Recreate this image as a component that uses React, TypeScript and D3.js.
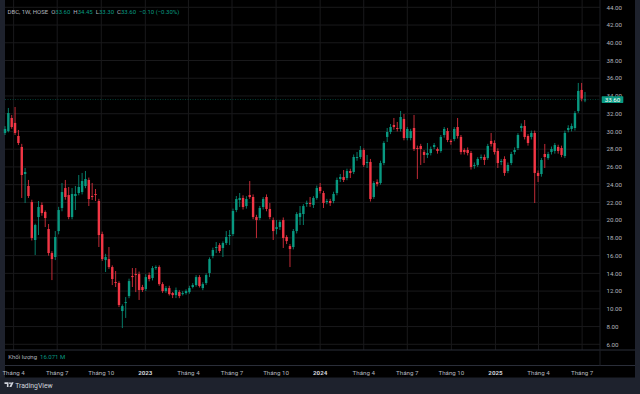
import React from "react";
import * as d3 from "d3";

const symbol = "DBC, 1W, HOSE";
const quote = [
  { k: "O", v: "33.60" },
  { k: "H", v: "34.45" },
  { k: "L", v: "33.30" },
  { k: "C", v: "33.60" },
];
const change = "−0.10 (−0.30%)";
const volumeLabel = "Khối lượng";
const volumeValue = "16.071 M";
const lastPrice = 33.6;

const opens = [
  29.83, 30.05, 31.52, 30.96, 29.49, 28.25, 25.2, 23.85, 22.04, 17.76,
  20.35, 21.71, 20.92, 19.0, 16.29, 15.84, 18.77, 21.37, 23.62, 22.83,
  20.35, 22.72, 23.06, 23.17, 23.85, 24.53, 22.72, 22.95, 22.16, 18.43,
  15.5, 15.61, 14.71, 13.02, 12.91, 9.75, 10.65, 11.44, 13.7, 13.92,
  13.92, 12.46, 12.23, 13.81, 13.47, 14.6, 14.71, 12.79, 12.0, 12.34,
  11.78, 11.55, 11.89, 11.66, 11.78, 11.89, 12.46, 12.68, 13.58, 12.34,
  12.91, 14.04, 15.95, 16.86, 17.19, 16.86, 17.42, 18.21, 18.43, 21.14,
  22.27, 22.5, 21.59, 22.83, 22.61, 20.35, 20.24, 21.48, 22.61, 21.26,
  20.01, 19.0, 19.22, 20.01, 18.1, 17.08, 16.97, 18.77, 20.35, 20.69,
  21.82, 21.93, 21.71, 22.5, 23.74, 23.06, 22.04, 22.16, 22.16, 23.06,
  24.64, 24.86, 24.75, 25.54, 25.43, 27.0, 27.12, 27.91, 26.44, 26.56,
  22.61, 24.3, 24.19, 26.44, 29.38, 29.94, 30.73, 30.39, 30.28, 31.41,
  29.26, 29.26, 30.39, 28.13, 28.36, 27.68, 27.35, 27.57, 28.25, 28.02,
  27.8, 29.6, 30.05, 28.93, 29.15, 30.5, 29.38, 27.91, 27.91, 27.57,
  26.1, 26.22, 27.0, 27.12, 27.0, 28.93, 28.7, 27.8, 26.56, 26.9,
  25.54, 26.44, 27.68, 28.13, 30.39, 30.62, 29.49, 29.38, 29.83, 25.32,
  25.2, 27.46, 27.0, 27.68, 27.8, 28.25, 28.13, 27.23, 30.17, 30.28,
  30.39, 32.31, 34.68, 33.6,
];
const highs = [
  30.6, 32.65, 31.86, 32.76, 30.17, 28.6, 25.88, 24.53, 22.3, 19.6,
  22.16, 22.0, 21.1, 19.56, 16.5, 18.77, 21.5, 24.19, 24.53, 23.74,
  23.62, 23.85, 25.09, 25.32, 25.54, 24.8, 24.19, 23.51, 22.4, 18.7,
  16.2, 16.97, 14.9, 14.26, 13.1, 10.5, 11.33, 13.4, 14.6, 14.6,
  14.2, 12.7, 13.9, 14.1, 14.82, 14.9, 14.9, 13.0, 12.57, 12.6,
  11.9, 12.4, 12.1, 12.0, 12.2, 12.6, 12.9, 13.8, 13.8, 13.0,
  14.0, 15.8, 16.9, 17.53, 17.4, 17.6, 18.77, 18.89, 21.3, 22.72,
  23.06, 22.8, 22.7, 24.41, 22.9, 20.6, 21.6, 22.6, 22.9, 21.93,
  20.3, 20.01, 20.0, 20.3, 18.3, 17.3, 19.0, 20.9, 21.59, 21.8,
  22.2, 22.61, 22.7, 23.9, 24.19, 23.3, 22.4, 22.4, 23.2, 24.8,
  25.2, 25.65, 25.8, 25.8, 27.4, 27.68, 28.36, 28.1, 27.35, 26.9,
  24.4, 24.6, 26.7, 28.9, 30.39, 30.84, 31.52, 31.07, 32.31, 31.97,
  30.5, 30.3, 31.86, 28.4, 28.6, 27.9, 28.7, 28.3, 28.7, 28.2,
  29.6, 30.5, 30.4, 29.1, 30.5, 31.52, 29.6, 28.1, 28.2, 27.8,
  26.5, 27.1, 27.4, 27.4, 28.6, 29.83, 29.0, 28.1, 26.9, 27.2,
  26.5, 27.7, 28.2, 29.8, 30.9, 31.29, 29.7, 30.1, 30.1, 25.6,
  27.0, 28.59, 27.7, 28.3, 28.7, 28.5, 28.4, 30.1, 30.7, 30.9,
  32.3, 35.47, 35.47, 34.45,
];
const lows = [
  29.6, 29.9, 30.3, 29.6, 28.47, 22.5, 21.93, 22.5, 17.7, 16.07,
  18.32, 20.5, 19.22, 16.0, 13.24, 15.5, 18.4, 21.0, 22.3, 20.1,
  20.1, 21.14, 22.8, 22.9, 23.6, 21.59, 22.27, 22.16, 16.97, 15.4,
  14.15, 14.5, 12.68, 12.46, 10.2, 7.83, 8.97, 11.2, 12.46, 11.89,
  11.0, 11.9, 12.0, 13.1, 13.2, 14.4, 12.6, 11.8, 11.8, 11.5,
  11.21, 11.21, 11.2, 11.5, 11.6, 11.7, 12.3, 12.5, 12.4, 12.1,
  12.7, 13.58, 15.7, 16.29, 16.3, 15.84, 17.2, 17.19, 18.2, 20.9,
  21.48, 21.2, 21.3, 22.4, 20.1, 17.98, 20.0, 21.2, 21.0, 20.1,
  17.76, 18.4, 18.9, 16.86, 17.3, 14.71, 16.7, 18.5, 19.45, 19.45,
  21.5, 21.5, 21.37, 22.3, 23.0, 21.37, 21.8, 21.6, 21.9, 22.8,
  24.3, 24.3, 24.5, 24.75, 25.2, 26.7, 26.9, 26.0, 25.88, 22.1,
  22.4, 23.8, 24.0, 26.2, 28.81, 29.7, 30.2, 30.0, 30.0, 29.0,
  29.0, 29.0, 27.8, 24.64, 26.22, 26.44, 27.0, 27.3, 28.0, 27.5,
  27.6, 29.3, 28.8, 28.5, 28.9, 29.2, 27.4, 27.4, 27.3, 25.7,
  25.8, 26.0, 26.8, 26.22, 26.8, 28.3, 27.4, 25.88, 26.2, 25.0,
  25.3, 26.2, 27.4, 27.9, 30.0, 29.1, 28.4, 29.1, 21.93, 24.3,
  24.9, 25.88, 26.8, 27.4, 27.5, 27.5, 27.1, 27.0, 29.9, 30.0,
  30.1, 32.1, 33.4, 33.3,
];
const closes = [
  30.28, 32.08, 30.5, 29.83, 28.7, 25.09, 25.43, 22.72, 17.98, 19.45,
  21.48, 20.8, 20.24, 16.29, 15.61, 18.1, 21.14, 23.17, 22.61, 20.35,
  22.95, 22.95, 23.74, 24.41, 24.64, 22.38, 22.61, 22.83, 18.32, 15.61,
  15.84, 14.71, 13.36, 12.91, 10.43, 10.31, 10.76, 13.13, 13.58, 13.81,
  12.12, 12.12, 13.58, 13.36, 14.6, 14.71, 12.79, 12.0, 12.34, 11.66,
  11.55, 12.12, 11.44, 11.78, 12.0, 12.34, 12.68, 13.58, 12.57, 12.79,
  13.81, 15.61, 16.63, 16.97, 16.52, 17.42, 18.1, 18.32, 21.03, 22.38,
  22.5, 21.48, 22.38, 22.61, 20.35, 20.01, 21.37, 22.38, 21.26, 20.35,
  18.77, 19.22, 19.79, 17.98, 17.64, 16.74, 18.77, 20.69, 20.8, 21.59,
  21.93, 21.82, 22.5, 23.62, 23.28, 21.93, 22.16, 21.93, 22.95, 24.53,
  24.86, 24.53, 25.54, 25.32, 27.12, 27.12, 27.91, 26.22, 26.56, 22.38,
  24.19, 24.08, 26.44, 28.7, 29.94, 30.5, 30.5, 30.28, 31.63, 29.26,
  30.28, 30.05, 28.02, 28.02, 28.02, 27.35, 27.57, 28.02, 28.47, 27.8,
  29.38, 30.28, 29.04, 28.81, 30.28, 29.49, 27.68, 27.68, 27.57, 25.99,
  26.22, 26.9, 27.12, 26.78, 28.36, 28.59, 27.68, 26.44, 26.67, 25.32,
  26.22, 27.46, 27.91, 29.6, 30.62, 29.38, 28.7, 29.83, 25.32, 24.98,
  26.78, 27.12, 27.46, 28.02, 28.47, 27.8, 27.35, 29.83, 30.39, 30.62,
  32.08, 34.57, 33.7, 33.6,
];

const firstWeek = "2022-03-14";
const priceTicks = [6, 8, 10, 12, 14, 16, 18, 20, 22, 24, 26, 28, 30, 32, 34, 36, 38, 40, 42, 44];
const timeTicks = [
  "2022-04-01", "2022-07-01", "2022-10-01", "2023-01-01", "2023-04-01", "2023-07-01",
  "2023-10-01", "2024-01-01", "2024-04-01", "2024-07-01", "2024-10-01", "2025-01-01",
  "2025-04-01", "2025-07-01",
];
const timeLabels = [
  "Tháng 4", "Tháng 7", "Tháng 10", "2023", "Tháng 4", "Tháng 7",
  "Tháng 10", "2024", "Tháng 4", "Tháng 7", "Tháng 10", "2025",
  "Tháng 4", "Tháng 7",
];

const UP = "#089981";
const DOWN = "#f23645";
const FONT = "Roboto, 'Noto Sans', sans-serif";

const parseDay = (s: string) => {
  const [yy, mm, dd] = s.split("-").map(Number);
  return new Date(yy, mm - 1, dd);
};

export default function App() {
  const W = 640;
  const H = 394;
  const left = 5;
  const paneRight = 600;
  const frameRight = 635;
  const paneBottom = 350;
  const volBottom = 365.5;
  const axisBottom = 377.5;

  const n = Math.min(opens.length, highs.length, lows.length, closes.length);
  const start = parseDay(firstWeek);
  const dates = d3.timeMonday.range(start, d3.timeMonday.offset(start, n));

  const x = d3.scaleTime().domain([dates[0], dates[n - 1]]).range([5, 585]);
  const y = d3.scaleLinear().domain([6, 44]).range([344.3, 7.3]);

  const bw = 2.4;
  const isYear = (s: string) => /^\d{4}$/.test(s);

  return (
    <svg
      width={W}
      height={H}
      style={{ position: "fixed", left: 0, top: 0, display: "block" }}
      fontFamily={FONT}
    >
      <rect x={0} y={0} width={W} height={H} fill="#1e222d" />
      <rect x={left} y={0} width={frameRight - left} height={axisBottom} fill="#000000" />

      {/* grid */}
      <g>
        {priceTicks.map((p) => (
          <line key={p} x1={left} x2={paneRight} y1={y(p)} y2={y(p)} stroke="#19191b" strokeWidth={1} />
        ))}
        {timeTicks.map((t) => {
          const xx = x(parseDay(t));
          return <line key={t} x1={xx} x2={xx} y1={0} y2={paneBottom} stroke="#19191b" strokeWidth={1} />;
        })}
      </g>

      {/* last price line */}
      <line
        x1={left}
        x2={paneRight}
        y1={y(lastPrice)}
        y2={y(lastPrice)}
        stroke={UP}
        strokeOpacity={0.5}
        strokeWidth={0.8}
        strokeDasharray="1 1.5"
      />

      {/* candles */}
      <g>
        {dates.slice(0, n).map((d, i) => {
          const o = opens[i];
          const c = closes[i];
          const col = c >= o ? UP : DOWN;
          const cx = x(d);
          const top = y(Math.max(o, c));
          const h = Math.max(0.8, Math.abs(y(o) - y(c)));
          return (
            <g key={i}>
              <line x1={cx} x2={cx} y1={y(highs[i])} y2={y(lows[i])} stroke={col} strokeWidth={0.8} />
              <rect x={cx - bw / 2} y={top} width={bw} height={h} fill={col} />
            </g>
          );
        })}
      </g>

      {/* header */}
      <text x={7.5} y={14.3} fontSize={6} fill="#b2b5be">
        <tspan>{symbol}</tspan>
        {quote.map((q) => (
          <tspan key={q.k}>
            <tspan dx={3} fill="#b2b5be">{q.k}</tspan>
            <tspan fill={UP}>{q.v}</tspan>
          </tspan>
        ))}
        <tspan dx={3} fill={UP}>{change}</tspan>
      </text>

      {/* price axis */}
      <g fontSize={6.2} fill="#b2b5be">
        {priceTicks.map((p) => (
          <text key={p} x={606.5} y={y(p) + 2.2}>
            {d3.format(".2f")(p)}
          </text>
        ))}
      </g>
      <rect x={601.7} y={y(lastPrice) - 3.4} width={21.6} height={6.8} fill={UP} rx={0.6} />
      <text x={612.5} y={y(lastPrice) + 2.2} fontSize={6.2} fill="#ffffff" textAnchor="middle">
        {d3.format(".2f")(lastPrice)}
      </text>

      {/* pane separators */}
      <line x1={left} x2={frameRight} y1={paneBottom} y2={paneBottom} stroke="#2a2e39" strokeWidth={1} />
      <line x1={left} x2={frameRight} y1={volBottom} y2={volBottom} stroke="#2a2e39" strokeWidth={1} />
      <line x1={paneRight} x2={paneRight} y1={0} y2={volBottom} stroke="#1c1e24" strokeWidth={1} />

      {/* volume pane legend */}
      <text x={8.3} y={359} fontSize={6} fill="#b2b5be">
        {volumeLabel}
        <tspan dx={3} fill={UP}>{volumeValue}</tspan>
      </text>

      {/* time axis */}
      <g fontSize={6.2} textAnchor="middle">
        {timeTicks.map((t, i) => (
          <text
            key={t}
            x={x(parseDay(t))}
            y={374.5}
            fontWeight={isYear(timeLabels[i]) ? 700 : 400}
            fill={isYear(timeLabels[i]) ? "#d1d4dc" : "#b2b5be"}
          >
            {timeLabels[i]}
          </text>
        ))}
      </g>

      {/* footer logo */}
      <g fill="#d1d4dc">
        <path d="M4.5 382.3 h4 v4.6 h-1.6 v-3 h-2.4 z" />
        <circle cx={10} cy={383.2} r={0.9} />
        <path d="M11.6 382.3 h2 l-2.2 4.6 h-2 z" />
        <text x={15.2} y={388.3} fontSize={6.8}>TradingView</text>
      </g>
    </svg>
  );
}
